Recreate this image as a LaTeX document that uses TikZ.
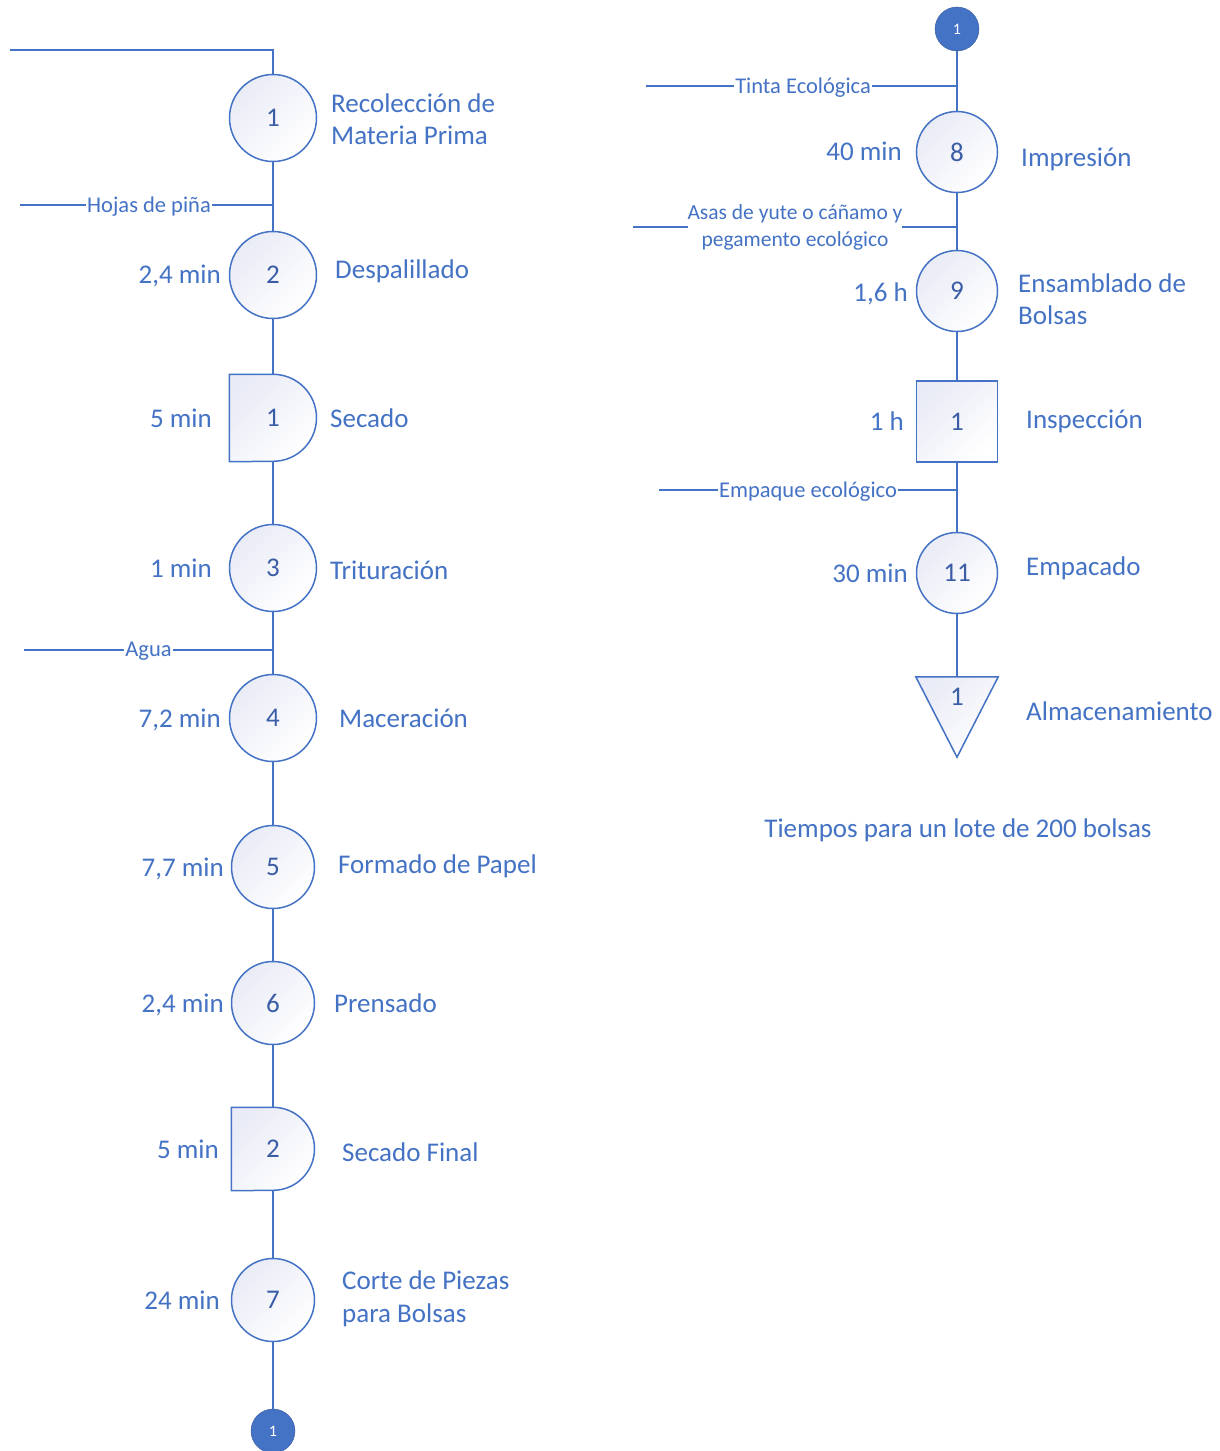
\documentclass[tikz,border=0pt]{standalone}
\usepackage{fontspec}
\setmainfont{Carlito}
\definecolor{mblue}{HTML}{4472C4}
\definecolor{nblue}{HTML}{3A5DA6}
\definecolor{shadeC}{HTML}{E9EBF6}
\tikzset{
  ln/.style={draw=mblue, line width=1.7pt},
  shp/.style={draw=mblue, line width=1.5pt, top color=shadeC, bottom color=white, shading angle=45},
  numf/.style={text=nblue, font=\fontsize{27}{32}\selectfont},
  opc/.style={shp, circle, minimum size=#1, inner sep=0pt, numf},
  boxn/.style={rectangle, minimum width=#1, minimum height=#1, inner sep=0pt, numf},
  conn/.style={circle, fill=mblue, draw=mblue!80!black, line width=0.4pt, minimum size=44pt, inner sep=0pt, text=white, font=\fontsize{16}{19}\selectfont},
  desc/.style={anchor=west, inner sep=0pt, text=mblue, align=left, font=\fontsize{27}{33}\selectfont, text height=22pt, text depth=3pt},
  descm/.style={anchor=west, inner sep=0pt, text=mblue, align=left, font=\fontsize{27}{32.5}\selectfont},
  tlbl/.style={anchor=east, inner sep=0pt, text=mblue, font=\fontsize{27}{32}\selectfont, text height=21pt, text depth=3pt},
  inlbl/.style={fill=white, inner xsep=1pt, inner ysep=0pt, text=mblue, align=center, font=\fontsize{22.5}{27}\selectfont}
}
\begin{document}
\begin{tikzpicture}[x=1pt,y=-1pt]
\useasboundingbox (0,0) rectangle (1220,1451);
\fill[white] (0,0) rectangle (1220,1451);

% ---------- left column ----------
\node[opc=87pt] (o1) at (273,118) {1};
\node[opc=87pt] (o2) at (273,275) {2};
\node[boxn=87pt] (d1) at (273,418) {};
\node[opc=87pt] (o3) at (273,568) {3};
\node[opc=87pt] (o4) at (273,718) {4};
\node[opc=83pt] (o5) at (273,867) {5};
\node[opc=83pt] (o6) at (273,1003) {6};
\node[boxn=83pt] (d2) at (273,1149) {};
\node[opc=83pt] (o7) at (273,1300) {7};
\node[conn] (cL) at (273,1431) {1};

\filldraw[shp] (d1.north west) -- (d1.north) arc[start angle=-90, end angle=90, radius=43.5] -- (d1.south west) -- cycle;
\node[numf] (d1n) at (d1) {1};
\filldraw[shp] (d2.north west) -- (d2.north) arc[start angle=-90, end angle=90, radius=41.5] -- (d2.south west) -- cycle;
\node[numf] (d2n) at (d2) {2};

\coordinate (inTop) at (10,50);
\coordinate (hL) at (20,205);
\coordinate (hR) at (273,205);
\coordinate (aL) at (24,650);
\coordinate (aR) at (273,650);

\draw[ln] (inTop) -| (o1.north);
\draw[ln] (o1) -- (o2);
\draw[ln] (o2) -- (d1.north);
\draw[ln] (d1.south) -- (o3);
\draw[ln] (o3) -- (o4);
\draw[ln] (o4) -- (o5);
\draw[ln] (o5) -- (o6);
\draw[ln] (o6) -- (d2.north);
\draw[ln] (d2.south) -- (o7);
\draw[ln] (o7) -- (cL);
\draw[ln] (hL) -- node[inlbl, pos=0.51, yshift=-1.5pt] (hlab) {Hojas de piña} (hR);
\draw[ln] (aL) -- node[inlbl, pos=0.5, yshift=-1.5pt] (alab) {Agua} (aR);

\node[descm] (t1) at (331,119) {Recolección de\\Materia Prima};
\node[desc] (t2) at (335,269) {Despalillado};
\node[desc] (t3) at (330,418) {Secado};
\node[desc] (t4) at (330,570) {Trituración};
\node[desc] (t5) at (339,718) {Maceración};
\node[desc] (t6) at (338,864) {Formado de Papel};
\node[desc] (t7) at (334,1003) {Prensado};
\node[desc] (t8) at (342,1152) {Secado Final};
\node[descm] (t9) at (342,1299) {Corte de Piezas\\para Bolsas};

\node[tlbl] (m2) at (221,274) {2,4 min};
\node[tlbl] (m3) at (212,418) {5 min};
\node[tlbl] (m4) at (212,568) {1 min};
\node[tlbl] (m5) at (221,718) {7,2 min};
\node[tlbl] (m6) at (224,867) {7,7 min};
\node[tlbl] (m7) at (224,1003) {2,4 min};
\node[tlbl] (m8) at (219,1149) {5 min};
\node[tlbl] (m9) at (220,1300) {24 min};

% ---------- right column ----------
\node[conn] (cR) at (957,29) {1};
\node[opc=81pt] (o8) at (957,152) {8};
\node[opc=81pt] (o9) at (957,291) {9};
\node[boxn=81pt, shp, draw=mblue] (i1) at (957,421.5) {1};
\node[opc=81pt] (o11) at (957,573) {11};
\node[rectangle, minimum width=82pt, minimum height=80pt, inner sep=0pt] (alm) at (957,717) {};
\filldraw[shp] (alm.north west) -- (alm.north east) -- (alm.south) -- cycle;
\node[numf] (almn) at (957,697) {1};

\coordinate (tL) at (646,86);
\coordinate (tR) at (957,86);
\coordinate (yL) at (633,227);
\coordinate (yR) at (957,227);
\coordinate (eL) at (659,490);
\coordinate (eR) at (957,490);

\draw[ln] (cR) -- (o8);
\draw[ln] (o8) -- (o9);
\draw[ln] (o9) -- (i1);
\draw[ln] (i1) -- (o11);
\draw[ln] (o11) -- (alm.north);
\draw[ln] (tL) -- node[inlbl, pos=0.505, yshift=-1.5pt] (tlab) {Tinta Ecológica} (tR);
\draw[ln] (yL) -- node[inlbl, pos=0.5, inner xsep=0pt, font=\fontsize{21.5}{27}\selectfont] (ylab) {Asas de yute o cáñamo y\\pegamento ecológico} (yR);
\draw[ln] (eL) -- node[inlbl, pos=0.5, yshift=-1.5pt] (elab) {Empaque ecológico} (eR);

\node[desc] (t10) at (1021,157) {Impresión};
\node[descm] (t11) at (1018,299) {Ensamblado de\\Bolsas};
\node[desc] (t12) at (1026,419) {Inspección};
\node[desc] (t13) at (1026,566) {Empacado};
\node[desc] (t14) at (1026,711) {Almacenamiento};

\node[tlbl] (m10) at (902,151) {40 min};
\node[tlbl] (m11) at (908,292) {1,6 h};
\node[tlbl] (m12) at (904,421) {1 h};
\node[tlbl] (m13) at (908,573) {30 min};

\node[text=mblue, inner sep=0pt, font=\fontsize{27}{32}\selectfont, text height=22pt, text depth=3pt] (note) at (958,828) {Tiempos para un lote de 200 bolsas};
\end{tikzpicture}
\end{document}
